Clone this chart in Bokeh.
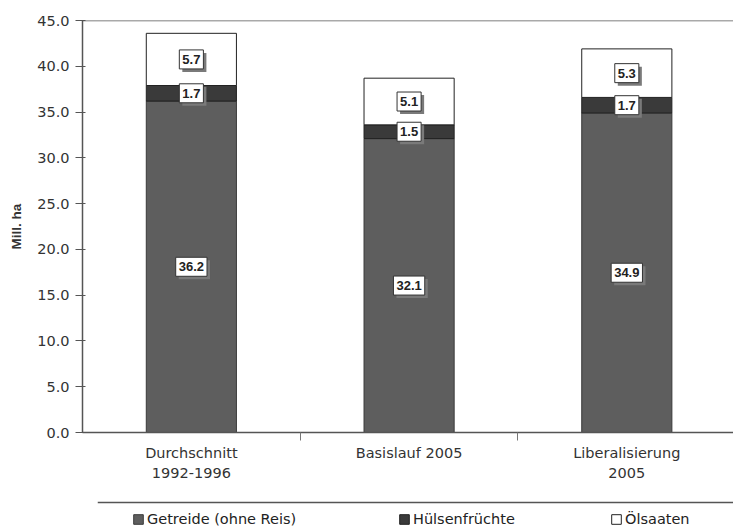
from bokeh.plotting import figure
from bokeh.layouts import column
from bokeh.models import (ColumnDataSource, FixedTicker, Range1d, Label, Legend,
                          LegendItem, Span, NumeralTickFormatter)
from bokeh.embed import file_html
from bokeh.resources import INLINE

categories = ["Durchschnitt\n1992-1996", "Basislauf 2005", "Liberalisierung\n2005"]
series = ["Getreide (ohne Reis)", "Hülsenfrüchte", "Ölsaaten"]
getreide = [36.2, 32.1, 34.9]
huelsen = [1.7, 1.5, 1.7]
oelsaaten = [5.7, 5.1, 5.3]
y_ticks = [0, 5, 10, 15, 20, 25, 30, 35, 40, 45]

FONT = "DejaVu Sans"
LFONT = "Liberation Sans"
TSIZE = "14.5px"
colors = ["#5e5e5e", "#3a3a3a", "#ffffff"]
lines = ["#3a3a3a", "#222222", "#222222"]

xs = [i + 0.5 for i in range(len(categories))]
src = ColumnDataSource(dict(x=xs, g=getreide, h=huelsen, o=oelsaaten))

p = figure(width=733, height=496, output_backend="svg", toolbar_location=None,
           x_range=Range1d(0, 2.99), y_range=Range1d(0, 45),
           min_border_top=20, min_border_left=82, min_border_right=0,
           min_border_bottom=64)
p.outline_line_color = None
p.grid.grid_line_color = None
p.frame_align = False

rs = p.vbar_stack(["g", "h", "o"], x="x", width=0.414, source=src,
                  fill_color=colors, line_color=lines, line_width=1)

# top frame line
p.add_layout(Span(location=45, dimension="width", line_color="#555555", line_width=1.5))

# y axis
ya = p.yaxis[0]
ya.ticker = FixedTicker(ticks=y_ticks)
ya.formatter = NumeralTickFormatter(format="0.0")
ya.axis_label = "Mill. ha"
ya.axis_label_text_font = LFONT
ya.axis_label_text_font_style = "bold"
ya.axis_label_text_font_size = "13.5px"
ya.axis_label_text_color = "#333333"
ya.axis_label_standoff = 10
ya.major_label_text_font = FONT
ya.major_label_text_font_size = TSIZE
ya.major_label_text_color = "#333333"
ya.major_tick_in = 3
ya.major_tick_out = 7
ya.minor_tick_line_color = None
ya.axis_line_color = "#555555"
ya.axis_line_width = 1.5
ya.major_tick_line_color = "#555555"
ya.major_label_standoff = 6

# x axis
xa = p.xaxis[0]
xa.ticker = FixedTicker(ticks=xs, minor_ticks=[1, 2])
xa.major_label_overrides = {x: c for x, c in zip(xs, categories)}
xa.major_label_text_font = FONT
xa.major_label_text_font_size = TSIZE
xa.major_label_text_color = "#333333"
xa.major_label_text_line_height = 1.3
xa.major_tick_line_color = None
xa.major_tick_in = 0
xa.major_tick_out = 0
xa.major_label_standoff = 4
xa.minor_tick_in = 0
xa.minor_tick_out = 8
xa.minor_tick_line_color = "#777777"
xa.axis_line_color = "#555555"
xa.axis_line_width = 1.5

# value labels
for i, x in enumerate(xs):
    base = 0.0
    for vals in (getreide, huelsen, oelsaaten):
        v = vals[i]
        mid = base + v / 2
        base += v
        txt = f"{v:.1f}"
        shadow = Label(x=x, y=mid, text=txt, x_offset=3, y_offset=-3,
                       text_align="center", text_baseline="middle",
                       text_font=LFONT, text_font_style="bold", text_font_size="13px",
                       text_color="#7a7a7a", background_fill_color="#7a7a7a",
                       padding=(3, 5))
        main = Label(x=x, y=mid, text=txt,
                     text_align="center", text_baseline="middle",
                     text_font=LFONT, text_font_style="bold", text_font_size="13px",
                     text_color="#222222", background_fill_color="white",
                     border_line_color="#333333", border_line_width=1,
                     padding=(3, 5))
        p.add_layout(shadow)
        p.add_layout(main)

# legend strip
p2 = figure(width=733, height=34, output_backend="svg", toolbar_location=None,
            x_range=Range1d(0, 636), y_range=Range1d(0, 34),
            x_axis_location=None, y_axis_location=None,
            min_border_left=97, min_border_right=0, min_border_top=0,
            min_border_bottom=0)
p2.outline_line_color = None
p2.grid.grid_line_color = None
p2.frame_align = False
p2.add_layout(Span(location=28, dimension="width", line_color="#555555", line_width=1.5))

legend_x = [35, 301, 513]
for s, fc, lc, lx in zip(series, colors, lines, legend_x):
    r = p2.vbar(x=[-10], top=[0], width=1, fill_color=fc, line_color=lc)
    lg = Legend(items=[LegendItem(label=s, renderers=[r])], location=(lx, 3),
                label_text_font=FONT, label_text_font_size=TSIZE,
                label_text_color="#222222", glyph_width=12, glyph_height=12,
                label_standoff=3, padding=0, margin=0,
                border_line_color=None, background_fill_alpha=0)
    p2.add_layout(lg, "center")

open("out.html", "w").write(file_html(column(p, p2, spacing=0), INLINE))
